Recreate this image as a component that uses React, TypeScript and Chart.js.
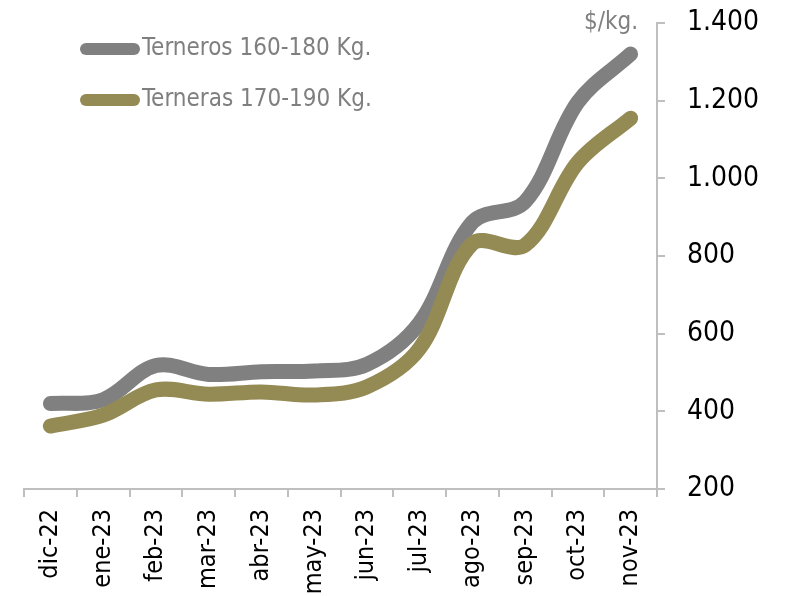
import React, { useEffect, useRef } from "react";
import { Chart, registerables } from "chart.js";

Chart.register(...registerables);

const categories = ["dic-22", "ene-23", "feb-23", "mar-23", "abr-23", "may-23", "jun-23", "jul-23", "ago-23", "sep-23", "oct-23", "nov-23"];
const terneros = [420, 430, 518, 495, 502, 504, 521, 628, 887, 940, 1196, 1320];
const terneras = [362, 390, 455, 444, 450, 442, 463, 562, 832, 828, 1041, 1155];
const seriesNames = ["Terneros 160-180 Kg.", "Terneras 170-190 Kg."];
const unitLabel = "$/kg.";

const GRAY = "#808080";
const OLIVE = "#948A54";
const AXIS = "#bfbfbf";

const fmt = (v: number) => String(v).replace(/\B(?=(\d{3})+(?!\d))/g, ".");

const overlayPlugin = {
  id: "overlay",
  afterDraw(chart: any) {
    const ctx = chart.ctx;
    ctx.save();
    const items = [
      { name: seriesNames[0], color: GRAY, y: 49 },
      { name: seriesNames[1], color: OLIVE, y: 100 },
    ];
    items.forEach((it) => {
      ctx.strokeStyle = it.color;
      ctx.lineWidth = 12;
      ctx.lineCap = "round";
      ctx.beginPath();
      ctx.moveTo(86, it.y);
      ctx.lineTo(134, it.y);
      ctx.stroke();
      ctx.fillStyle = "#7f7f7f";
      ctx.font = '24px "DejaVu Sans Condensed", "DejaVu Sans", sans-serif';
      ctx.textBaseline = "middle";
      ctx.textAlign = "left";
      ctx.fillText(it.name, 142, it.y);
    });
    ctx.fillStyle = "#7f7f7f";
    ctx.font = '24px "DejaVu Sans Condensed", "DejaVu Sans", sans-serif';
    ctx.textAlign = "right";
    ctx.textBaseline = "middle";
    ctx.fillText(unitLabel, 638, 23);
    ctx.restore();
  },
};

export default function App() {
  const ref = useRef<HTMLCanvasElement | null>(null);
  useEffect(() => {
    document.body.style.margin = "0";
    if (!ref.current) return;
    const chart = new Chart(ref.current, {
      type: "line",
      data: {
        labels: categories,
        datasets: [
          {
            label: seriesNames[0],
            data: terneros,
            borderColor: GRAY,
            backgroundColor: GRAY,
            borderWidth: 15,
            pointRadius: 0,
            tension: 0.35,
            borderCapStyle: "round",
            borderJoinStyle: "round",
            order: 1,
          },
          {
            label: seriesNames[1],
            data: terneras,
            borderColor: OLIVE,
            backgroundColor: OLIVE,
            borderWidth: 15,
            pointRadius: 0,
            tension: 0.35,
            borderCapStyle: "round",
            borderJoinStyle: "round",
            order: 0,
          },
        ],
      },
      options: {
        animation: false,
        responsive: false,
        devicePixelRatio: 1,
        layout: { padding: { left: 24, top: 23, right: 0, bottom: 0 } },
        plugins: { legend: { display: false }, tooltip: { enabled: false } },
        scales: {
          x: {
            type: "category",
            offset: true,
            grid: { drawOnChartArea: false, drawTicks: true, tickLength: 8, color: AXIS, lineWidth: 2, offset: true },
            border: { display: true, color: AXIS, width: 2 },
            ticks: {
              color: "#000",
              minRotation: 90,
              maxRotation: 90,
              padding: 12,
              autoSkip: false,
              font: { family: '"DejaVu Sans Condensed", "DejaVu Sans", sans-serif', size: 25 },
            },
            afterFit(scale: any) {
              scale.height = 107;
              scale.paddingLeft = 0;
              scale.paddingRight = 0;
            },
          },
          y: {
            position: "right",
            min: 200,
            max: 1400,
            grid: { drawOnChartArea: false, drawTicks: true, tickLength: 8, color: AXIS, lineWidth: 2 },
            border: { display: true, color: AXIS, width: 2 },
            ticks: {
              stepSize: 200,
              color: "#000",
              padding: 22,
              callback: (v: any) => fmt(Number(v)),
              font: { family: '"DejaVu Sans Condensed", "DejaVu Sans", sans-serif', size: 28 },
            },
            afterFit(scale: any) {
              scale.width = 128;
              scale.paddingTop = 0;
              scale.paddingBottom = 0;
            },
          },
        },
      },
      plugins: [overlayPlugin],
    });
    return () => chart.destroy();
  }, []);
  return (
    <div style={{ position: "absolute", left: 0, top: 0, width: 785, height: 596 }}>
      <canvas ref={ref} width={785} height={596} />
    </div>
  );
}
